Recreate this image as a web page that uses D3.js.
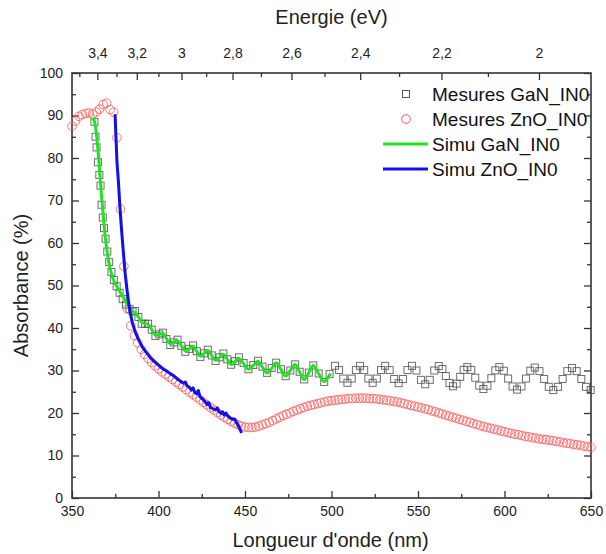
<!DOCTYPE html>
<html><head><meta charset="utf-8">
<script src="https://cdn.jsdelivr.net/npm/d3@7"></script>
<style>
body{margin:0;background:#fff}
svg{display:block;font-family:"Liberation Sans",Arial,Helvetica,sans-serif}
</style>
</head><body>
<svg id="chart" width="606" height="554"></svg>
<script>
// ---------- data ----------
const xTicks = [350, 400, 450, 500, 550, 600, 650];
const xMinorTicks = [375, 425, 475, 525, 575, 625];
const yTicks = [0, 10, 20, 30, 40, 50, 60, 70, 80, 90, 100];
const yMinorTicks = [5, 15, 25, 35, 45, 55, 65, 75, 85, 95];
const energyTicks = [3.4, 3.2, 3.0, 2.8, 2.6, 2.4, 2.2, 2.0];
const energyMinorTicks = [3.5, 3.3, 3.1, 2.9, 2.7, 2.5, 2.3, 2.1];
const seriesNames = ["Mesures GaN_IN0", "Mesures ZnO_IN0", "Simu GaN_IN0", "Simu ZnO_IN0"];

const ganMesWl = [363.0,363.6,364.2,365.0,365.8,366.5,367.1,367.8,368.5,369.4,370.4,371.5,372.8,374.2,375.8,377.5,379.3,381.2,383.2,385.0,
386.4,388.4,390.3,392.2,394.0,396.1,398.2,400.4,402.5,404.6,406.8,408.9,411.0,413.2,415.5,417.7,420.0,422.1,424.2,426.4,428.5,430.8,433.0,435.3,437.5,439.8,442.0,444.3,446.5,
449.2,452.0,454.8,457.5,460.1,462.8,465.4,468.0,470.8,473.5,476.2,479.0,481.6,484.2,486.9,489.5,492.6,495.8,498.9,502.0,
504.4,506.8,509.2,511.7,514.1,516.5,518.9,521.3,523.8,526.2,528.6,531.0,533.6,536.2,538.8,541.3,543.9,546.5,549.1,551.7,554.2,556.8,559.4,562.0,
564.1,566.1,568.2,570.2,572.3,574.4,576.4,578.5,580.8,583.1,585.4,587.8,590.1,592.4,594.7,597.0,599.6,602.1,604.7,607.2,609.8,612.4,614.9,617.5,
620.2,622.9,625.6,628.2,630.9,633.6,636.3,639.0,641.7,644.4,647.1,649.8];
const ganMesAbs = [88.5,85,82.5,79,76,73.5,69,66,63.5,61,58,55.5,53.2,51.3,49.8,48.3,46.8,45.5,44.5,43.9,
44.0,42.6,41.0,41.0,41.0,39.6,38.1,38.5,38.9,37.4,36.0,36.6,37.25,35.8,34.4,35.1,35.9,34.55,33.2,34.05,34.9,33.55,32.25,33.1,34.0,32.65,31.35,32.2,33.1,
31.75,30.3,31.3,32.3,30.9,29.45,30.6,31.85,30.3,28.65,30.0,31.45,29.7,27.9,29.5,31.2,29.3,27.3,29.15,31.1,
30.1,28.1,27.1,28.1,30.1,31.1,30.1,28.1,27.1,28.1,30.1,31.1,30.1,28.0,27.0,28.0,30.1,31.1,30.0,27.8,26.75,27.8,30.0,31.05,
30.35,28.7,27.05,26.3,26.9,28.5,30.15,30.8,30.15,28.3,26.45,25.65,26.4,28.2,30.05,30.8,29.95,28.1,26.25,25.5,26.25,28.1,29.95,30.7,
29.85,28.0,26.15,25.4,26.15,28.0,29.85,30.6,29.85,28.0,26.15,25.4];

const znoMesWl = [350,352,354,356,358,360,362,364,366,368,370,372,374,376,378,380,382,384,386,388,390,392,394,396,398,400,
402,404,406,408,410,412,414,416,418,420,422,424,426,428,430,432,434,436,438,440,442,444,446,448,450,
452,454,456,458,460,462,464,466,468,470,472,474,476,478,480,482,484,486,488,490,492,494,496,498,500,
502,504,506,508,510,512,514,516,518,520,522,524,526,528,530,532,534,536,538,540,542,544,546,548,550,
552,554,556,558,560,562,564,566,568,570,572,574,576,578,580,582,584,586,588,590,592,594,596,598,600,
602,604,606,608,610,612,614,616,618,620,622,624,626,628,630,632,634,636,638,640,642,644,646,648,650];
const znoMesAbs = [87.5,88.7,89.8,90.2,90.5,90.6,90.3,90.8,91.5,92.6,92.9,91.4,90.8,84.8,68.0,54.5,44.5,40.5,38.2,36.5,35.0,33.8,32.8,31.9,31.1,30.4,
29.7,29.1,28.5,27.9,27.3,26.7,26.1,25.5,24.9,24.3,23.7,23.1,22.5,21.9,21.3,20.7,20.1,19.5,19.0,18.5,18.0,17.6,17.2,16.9,16.7,
16.6,16.6,16.7,16.9,17.2,17.5,17.8,18.2,18.6,19.0,19.4,19.7,20.0,20.4,20.7,21.0,21.3,21.6,21.8,22.0,22.2,22.4,22.6,22.8,22.9,
23.0,23.1,23.2,23.3,23.4,23.4,23.5,23.5,23.5,23.5,23.4,23.4,23.3,23.2,23.1,23.0,22.9,22.7,22.6,22.4,22.2,22.0,21.8,21.6,21.4,
21.2,21.0,20.8,20.5,20.3,20.0,19.8,19.5,19.3,19.0,18.8,18.5,18.3,18.0,17.8,17.5,17.3,17.0,16.8,16.6,16.4,16.2,16.0,15.8,15.6,
15.4,15.2,15.0,14.9,14.7,14.5,14.4,14.2,14.1,13.9,13.8,13.7,13.6,13.5,13.3,13.2,13.0,12.9,12.8,12.6,12.5,12.4,12.2,12.1,11.9];

const ganSimWl = [362.2,363.3,364.5,365.5,366.3,367.2,368.2,369.2,370.5,372.0,374.0,376.0,378.0,380.5,383.0,385.0,386.4,388.4,390.3,392.2,394.0,
396.1,398.2,400.4,402.5,404.6,406.8,408.9,411.0,413.2,415.5,417.7,420.0,422.1,424.2,426.4,428.5,430.8,433.0,435.3,437.5,439.8,442.0,444.3,446.5,
449.2,452.0,454.8,457.5,460.1,462.8,465.4,468.0,470.8,473.5,476.2,479.0,481.6,484.2,486.9,489.5,492.6,495.8,498.0,499.5];
const ganSimAbs = [89.5,88.0,84.0,79.5,75.0,70.5,66.0,61.5,57.5,54.0,51.3,49.7,48.3,46.6,44.9,43.8,43.6,42.6,41.3,41.0,40.9,
39.6,38.3,38.5,38.7,37.5,36.3,36.6,37.0,35.8,34.6,35.1,35.7,34.5,33.4,34.0,34.7,33.5,32.4,33.1,33.8,32.6,31.4,32.0,32.8,
31.6,30.3,31.2,32.2,30.8,29.4,30.5,31.8,30.2,28.7,30.0,31.4,29.6,27.9,29.5,31.2,29.2,27.4,28.4,29.3];

const znoSimWl = [374.9,375.4,376.0,376.8,377.7,378.7,379.7,380.7,381.7,382.6,383.5,385.0,387.0,389.0,391.0,393.0,395.0,397.0,399.0,401.0,403.0,405.0,407.0,409.0,411.0,413.0,
414.5,415.5,416.5,418.0,419.0,420.0,421.0,422.0,423.0,424.0,425.5,427.0,428.0,429.0,430.0,431.5,433.0,434.0,435.0,436.5,437.0,438.0,439.0,440.0,441.5,443.0,444.0,445.0,446.5,448.0];
const znoSimAbs = [90.3,85,79,74.6,68.5,62.8,57.8,53,49.3,46.4,44.0,41.0,38.6,36.8,35.3,34.2,33.2,32.3,31.6,30.9,30.3,29.8,29.2,28.7,28.0,27.4,
27.0,27.3,26.4,26.0,25.4,25.9,24.8,24.5,25.3,23.8,23.3,22.6,22.0,22.4,21.3,21.0,20.7,21.2,20.3,19.9,20.3,19.5,20.0,19.3,18.8,18.5,18.6,17.8,16.8,15.3];

// ---------- layout ----------
const pLeft = 72, pRight = 591, pTop = 73, pBottom = 498;
const svg = d3.select("#chart");
const x = d3.scaleLinear().domain([350, 650]).range([pLeft, pRight]);
const y = d3.scaleLinear().domain([0, 100]).range([pBottom, pTop]);
const HC = 1239.84;

const axisColor = "#333";
function styleAxis(g, fs) {
  g.select(".domain").remove();
  g.selectAll(".tick line").attr("stroke", axisColor).attr("stroke-width", 1.3);
  g.selectAll(".tick text").attr("fill", "#222").style("font-size", fs + "px")
    .style("font-family", '"Liberation Sans",Arial,sans-serif');
}

// bottom axis
svg.append("g").attr("transform", `translate(0,${pBottom})`)
  .call(d3.axisBottom(x).tickValues(xTicks).tickSizeInner(-7).tickSizeOuter(0).tickPadding(8).tickFormat(d3.format("d")))
  .call(g => styleAxis(g, 14));
svg.append("g").attr("transform", `translate(0,${pBottom})`)
  .call(d3.axisBottom(x).tickValues(xMinorTicks).tickSizeInner(-4).tickSizeOuter(0).tickFormat(""))
  .call(g => styleAxis(g, 14));

// left axis
svg.append("g").attr("transform", `translate(${pLeft},0)`)
  .call(d3.axisLeft(y).tickValues(yTicks).tickSizeInner(-7).tickSizeOuter(0).tickPadding(9).tickFormat(d3.format("d")))
  .call(g => styleAxis(g, 14));
svg.append("g").attr("transform", `translate(${pLeft},0)`)
  .call(d3.axisLeft(y).tickValues(yMinorTicks).tickSizeInner(-4).tickSizeOuter(0).tickFormat(""))
  .call(g => styleAxis(g, 14));

// right axis (ticks only)
svg.append("g").attr("transform", `translate(${pRight},0)`)
  .call(d3.axisRight(y).tickValues(yTicks).tickSizeInner(-7).tickSizeOuter(0).tickFormat(""))
  .call(g => styleAxis(g, 14));
svg.append("g").attr("transform", `translate(${pRight},0)`)
  .call(d3.axisRight(y).tickValues(yMinorTicks).tickSizeInner(-4).tickSizeOuter(0).tickFormat(""))
  .call(g => styleAxis(g, 14));

// top axis (energy)
const fmtE = e => d3.format(".1f")(e).replace(/\.0$/, "").replace(".", ",");
svg.append("g").attr("transform", `translate(0,${pTop})`)
  .call(d3.axisTop(x).tickValues(energyTicks.map(e => HC / e)).tickSizeInner(-7).tickSizeOuter(0).tickPadding(15)
    .tickFormat(w => fmtE(HC / w)))
  .call(g => styleAxis(g, 14));
svg.append("g").attr("transform", `translate(0,${pTop})`)
  .call(d3.axisTop(x).tickValues(energyMinorTicks.map(e => HC / e)).tickSizeInner(-4).tickSizeOuter(0).tickFormat(""))
  .call(g => styleAxis(g, 14));

// frame
svg.append("rect").attr("x", pLeft).attr("y", pTop).attr("width", pRight - pLeft).attr("height", pBottom - pTop)
  .attr("fill", "none").attr("stroke", axisColor).attr("stroke-width", 1.6);

// titles
svg.append("text").attr("x", (pLeft + pRight) / 2).attr("y", 24).attr("text-anchor", "middle")
  .style("font-size", "20px").attr("fill", "#222").text("Energie (eV)");
svg.append("text").attr("x", (pLeft + pRight) / 2 - 1).attr("y", 547).attr("text-anchor", "middle")
  .style("font-size", "20px").attr("fill", "#222").text("Longueur d'onde (nm)");
svg.append("text").attr("transform", `translate(28,${(pTop + pBottom) / 2}) rotate(-90)`).attr("text-anchor", "middle")
  .style("font-size", "20px").attr("fill", "#222").text("Absorbance (%)");

// series
const ganMes = d3.zip(ganMesWl, ganMesAbs);
const znoMes = d3.zip(znoMesWl, znoMesAbs);
const ganSim = d3.zip(ganSimWl, ganSimAbs);
const znoSim = d3.zip(znoSimWl, znoSimAbs);

const sq = 7;
svg.append("g").selectAll("rect").data(ganMes).join("rect")
  .attr("x", d => x(d[0]) - sq / 2).attr("y", d => y(d[1]) - sq / 2)
  .attr("width", sq).attr("height", sq)
  .attr("fill", "none").attr("stroke", "#555").attr("stroke-width", 1).attr("stroke-opacity", 0.85);

svg.append("g").selectAll("circle").data(znoMes).join("circle")
  .attr("cx", d => x(d[0])).attr("cy", d => y(d[1])).attr("r", 4.3)
  .attr("fill", "none").attr("stroke", "#ff5a5a").attr("stroke-width", 1).attr("stroke-opacity", 0.85);

const lineSmooth = d3.line().x(d => x(d[0])).y(d => y(d[1])).curve(d3.curveCatmullRom.alpha(0.5));
const lineRaw = d3.line().x(d => x(d[0])).y(d => y(d[1]));
svg.append("path").datum(ganSim).attr("d", lineSmooth)
  .attr("fill", "none").attr("stroke", "#1ee61e").attr("stroke-width", 3).attr("stroke-linejoin", "round");
svg.append("path").datum(znoSim).attr("d", lineRaw)
  .attr("fill", "none").attr("stroke", "#1010ee").attr("stroke-width", 3).attr("stroke-linejoin", "round");

// legend
const legY = [94, 119, 144, 169];
const lg = svg.append("g");
seriesNames.forEach((name, i) => {
  const yy = legY[i];
  if (i === 0) lg.append("rect").attr("x", 406 - sq / 2).attr("y", yy - sq / 2).attr("width", sq).attr("height", sq)
    .attr("fill", "none").attr("stroke", "#555").attr("stroke-width", 1);
  if (i === 1) lg.append("circle").attr("cx", 406).attr("cy", yy).attr("r", 4.3)
    .attr("fill", "none").attr("stroke", "#ff5a5a").attr("stroke-width", 1);
  if (i === 2) lg.append("line").attr("x1", 383).attr("x2", 428).attr("y1", yy).attr("y2", yy)
    .attr("stroke", "#1ee61e").attr("stroke-width", 3);
  if (i === 3) lg.append("line").attr("x1", 383).attr("x2", 428).attr("y1", yy).attr("y2", yy)
    .attr("stroke", "#1010ee").attr("stroke-width", 3);
  lg.append("text").attr("x", 432).attr("y", yy + 7).style("font-size", "19px").attr("fill", "#111").text(name);
});
</script>
</body></html>
